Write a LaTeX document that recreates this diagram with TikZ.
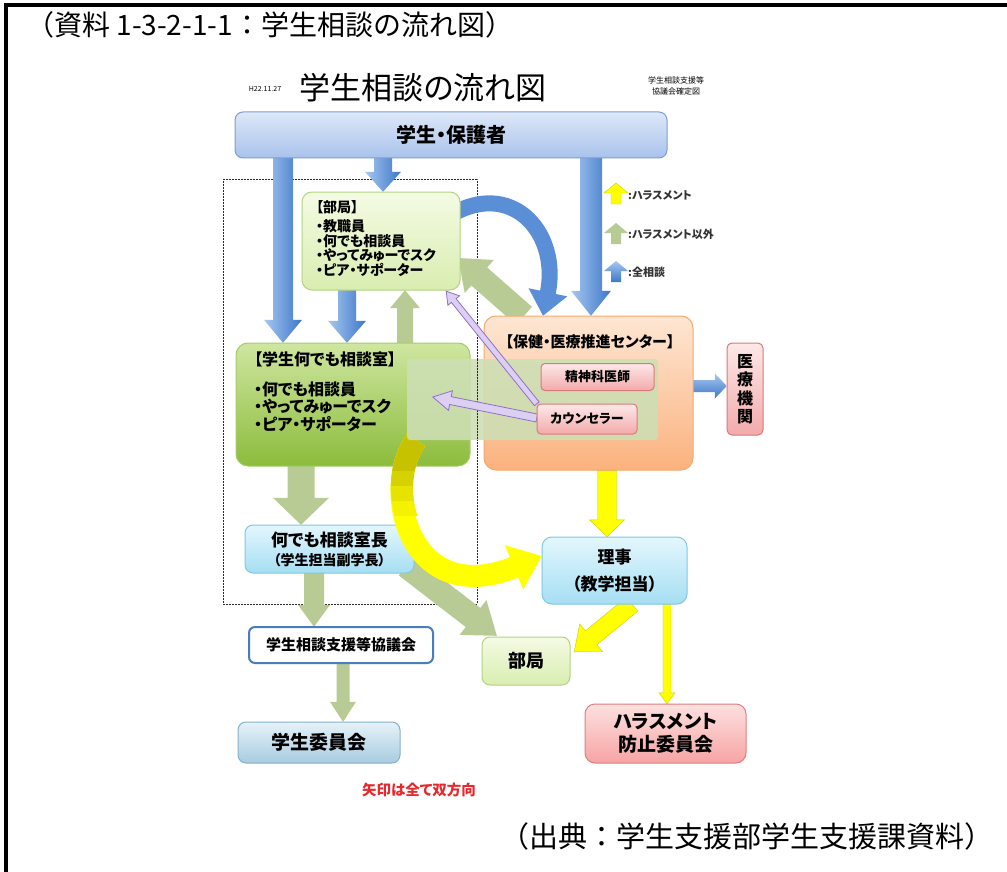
\documentclass[tikz,border=0pt]{standalone}
\usepackage{fontspec}
\setmainfont{Noto Sans CJK JP}
\newfontfamily\jp{Noto Sans CJK JP}[RawFeature=+palt]
\usetikzlibrary{calc,arrows.meta}
\newcommand\myfs[2]{\fontsize{#1pt}{#2pt}\selectfont}
\definecolor{parTop}{HTML}{DDE8F8}\definecolor{parBot}{HTML}{A9C2EC}\definecolor{parDr}{HTML}{7F9DD3}
\definecolor{bukTop}{HTML}{F4FBE4}\definecolor{bukBot}{HTML}{D9EDB0}\definecolor{bukDr}{HTML}{B3D383}
\definecolor{souTop}{HTML}{CFE6A0}\definecolor{souBot}{HTML}{8CBC3C}\definecolor{souDr}{HTML}{A5CC6A}
\definecolor{cenTop}{HTML}{FEE6D3}\definecolor{cenBot}{HTML}{FBB27E}\definecolor{cenDr}{HTML}{F6A96B}
\definecolor{ovlC}{HTML}{CDDFB4}
\definecolor{pinkTop}{HTML}{FDE8E8}\definecolor{pinkBot}{HTML}{F3AAAA}\definecolor{pinkDr}{HTML}{D97A7A}
\definecolor{cyTop}{HTML}{E3F7FD}\definecolor{cyBot}{HTML}{A6DEF3}\definecolor{cyDr}{HTML}{7FC8E6}
\definecolor{kyoDr}{HTML}{4A7CC0}
\definecolor{iinTop}{HTML}{E6F2F8}\definecolor{iinBot}{HTML}{A7CCE0}\definecolor{iinDr}{HTML}{86B0CC}
\definecolor{harTop}{HTML}{FDE0E0}\definecolor{harBot}{HTML}{F7A4A4}\definecolor{harDr}{HTML}{E07F7F}
\definecolor{grArr}{HTML}{B8CB95}
\definecolor{blueL}{HTML}{A6C7F0}\definecolor{blueD}{HTML}{3D77C8}\definecolor{blueM}{HTML}{5A8FD8}
\definecolor{yelC}{HTML}{FFFF00}\definecolor{yelDr}{HTML}{D0CC00}
\definecolor{olA}{HTML}{C6C200}\definecolor{olB}{HTML}{D6D200}\definecolor{olC}{HTML}{E6E300}\definecolor{olD}{HTML}{F4F200}
\definecolor{purF}{HTML}{DCCFF3}\definecolor{purD}{HTML}{8F72C4}
\definecolor{noteRed}{HTML}{E8282C}
% block arrow: style, from, to, half shaft, half head, head length
\newcommand\blk[6]{%
  \coordinate (blkC) at ($(#3)!#6!(#2)$);
  \path[#1] ($(#2)!#4!90:(#3)$) -- ($(blkC)!#4!90:(#3)$) -- ($(blkC)!#5!90:(#3)$)
    -- (#3) -- ($(blkC)!#5!-90:(#3)$) -- ($(blkC)!#4!-90:(#3)$) -- ($(#2)!#4!-90:(#3)$) -- cycle;
}
\newcommand\arcpath{(yas) .. controls (380,490) and (410,610) .. (yae)}
\begin{document}
\begin{tikzpicture}[x=1pt,y=-1pt,
  every node/.style={inner sep=0pt},
  box/.style={draw, line width=1pt, rounded corners=8pt, align=center, font=\jp\bfseries},
  framest/.style={draw=black!85, line width=1pt, dash pattern=on 2pt off 1pt},
  bluearr/.style={left color=blueL, right color=blueD},
  bluearrH/.style={top color=blueL, bottom color=blueD},
  greenarr/.style={fill=grArr},
  yelarr/.style={fill=yelC, draw=yelDr, line width=0.4pt},
  purarr/.style={fill=purF, draw=purD, line width=0.8pt},
  legtxt/.style={anchor=west, font=\jp\bfseries\myfs{11}{12}, text=black!80},
]
\useasboundingbox (0,0) rectangle (1007,872);
\fill[white] (0,0) rectangle (1007,872);
% page border
\draw[line width=4pt] (6,872) -- (6,5) -- (1007,5);
% captions
\node[anchor=west, font=\myfs{28}{30}] (cap1) at (26,25) {（資料 1-3-2-1-1：学生相談の流れ図）};
\node[anchor=east, font=\myfs{29}{31}] (cap2) at (994,836) {（出典：学生支援部学生支援課資料）};
% headings
\node[font=\jp\myfs{31}{33}] (title) at (423,88) {学生相談の流れ図};
\node[font=\jp\myfs{7}{8}] (date) at (265,89) {H22.11.27};
\node[align=center, font=\jp\myfs{8}{10.5}] (kakutei) at (676,86) {学生相談支援等\\協議会確定図};
% dashed frame
\node[framest, minimum width=254pt, minimum height=424pt] (frame) at (350,392) {};

% node positions
\path
  (451,135) node[minimum width=432pt, minimum height=46pt] (parent) {}
  (381,241) node[minimum width=158pt, minimum height=98pt] (buk) {}
  (353,404.5) node[minimum width=234pt, minimum height=123pt] (sou) {}
  (588.5,393) node[minimum width=209pt, minimum height=154pt] (cen) {}
  (745,389) node[minimum width=36pt, minimum height=92pt] (iryo) {}
  (329.5,549) node[minimum width=169pt, minimum height=48pt] (shi) {}
  (341,645) node[minimum width=184pt, minimum height=36pt] (kyo) {}
  (319,742.5) node[minimum width=162pt, minimum height=41pt] (iin) {}
  (614.5,570.5) node[minimum width=145pt, minimum height=67pt] (riji) {}
  (526,661) node[minimum width=88pt, minimum height=48pt] (buk2) {}
  (665.5,733.5) node[minimum width=161pt, minimum height=59pt] (har) {}
  (532.5,399.5) node[minimum width=251pt, minimum height=81pt] (ovl) {}
  (597.5,377) node[minimum width=113pt, minimum height=27pt] (psy) {}
  (587,419) node[minimum width=100pt, minimum height=30pt] (cou) {};

% connector end points
\coordinate (b1s) at (283,0 |- parent.south); \coordinate (b1e) at (283,0 |- sou.north);
\coordinate (b2s) at (383,0 |- parent.south); \coordinate (b2e) at (383,0 |- buk.north);
\coordinate (b3s) at (347,0 |- buk.south);    \coordinate (b3e) at (347,0 |- sou.north);
\coordinate (b4s) at (591,0 |- parent.south); \coordinate (b4e) at (591,0 |- cen.north);
\coordinate (b5s) at ([xshift=-2pt]cen.east |- 0,386); \coordinate (b5e) at (iryo.west |- 0,386);
\coordinate (g1s) at (405,0 |- sou.north);    \coordinate (g1e) at (405,0 |- buk.south);
\coordinate (g2s) at (524,0 |- cen.north);    \coordinate (g2e) at ([shift={(-2,17)}]buk.east);
\coordinate (g3s) at (301,0 |- sou.south);    \coordinate (g3e) at (301,0 |- shi.north);
\coordinate (g4s) at (314,0 |- shi.south);    \coordinate (g4e) at (314,0 |- kyo.north);
\coordinate (g5s) at (343,0 |- kyo.south);    \coordinate (g5e) at (343,0 |- iin.north);
\coordinate (g6s) at ([shift={(-8,17)}]shi.east); \coordinate (g6e) at ([shift={(15,-1)}]buk2.north west);
\coordinate (y1s) at (607,0 |- cen.south);    \coordinate (y1e) at (607,0 |- riji.north);
\coordinate (y2s) at (632,0 |- riji.south);   \coordinate (y2e) at ([shift={(4,15)}]buk2.north east);
\coordinate (y3s) at (667,0 |- riji.south);   \coordinate (y3e) at (667,0 |- har.north);
\coordinate (b6s) at ([shift={(-4,-29)}]buk.east); \coordinate (b6e) at (543,0 |- cen.north);
\coordinate (yas) at (416,0 |- ovl.south);    \coordinate (yae) at ([shift={(0,-14.5)}]riji.west);
\coordinate (p1s) at (cou.north west);        \coordinate (p1e) at ([shift={(-14,1)}]buk.south east);
\coordinate (p2s) at ([yshift=1pt]cou.west);  \coordinate (p2e) at ([shift={(26,-2.5)}]ovl.west);

% straight block arrows (under the boxes)
\blk{bluearr}{b1s}{b1e}{10pt}{19pt}{23pt}
\blk{bluearr}{b2s}{b2e}{9pt}{18pt}{20pt}
\blk{bluearr}{b3s}{b3e}{9pt}{19pt}{22pt}
\blk{bluearr}{b4s}{b4e}{11pt}{20pt}{25pt}
\blk{bluearrH}{b5s}{b5e}{6pt}{12.5pt}{12pt}
\blk{greenarr}{g1s}{g1e}{8pt}{15pt}{18pt}
\blk{greenarr}{g2s}{g2e}{12pt}{22pt}{28pt}
\blk{greenarr}{g3s}{g3e}{13.5pt}{28pt}{27pt}
\blk{greenarr}{g4s}{g4e}{10pt}{16pt}{22pt}
\blk{greenarr}{g5s}{g5e}{6.5pt}{13pt}{20pt}
\blk{greenarr}{g6s}{g6e}{12pt}{22pt}{30pt}
\blk{yelarr}{y1s}{y1e}{9.5pt}{17.5pt}{17pt}
\blk{yelarr}{y2s}{y2e}{9pt}{18pt}{22pt}
\blk{yelarr}{y3s}{y3e}{4pt}{8pt}{11pt}
% curved blue arrow
\draw[line width=16pt, draw=blueM, -{Triangle[length=24pt 0 0, width=38pt 0 0]}]
  (b6s) .. controls (515,182) and (560,235) .. (b6e);

% boxes
\node[box, top color=parTop, bottom color=parBot, draw=parDr, minimum width=432pt, minimum height=46pt, font=\jp\bfseries\myfs{20}{22}] at (parent) {学生・保護者};
\node[box, top color=bukTop, bottom color=bukBot, draw=bukDr, rounded corners=10pt, minimum width=158pt, minimum height=98pt] at (buk) {};
\node[box, top color=souTop, bottom color=souBot, draw=souDr, rounded corners=12pt, minimum width=234pt, minimum height=123pt] at (sou) {};
\node[box, top color=cenTop, bottom color=cenBot, draw=cenDr, rounded corners=12pt, minimum width=209pt, minimum height=154pt] at (cen) {};
\node[box, top color=pinkTop, bottom color=pinkBot, draw=pinkDr, rounded corners=5pt, minimum width=36pt, minimum height=92pt, font=\jp\bfseries\myfs{16}{18.5}] at (iryo) {医\\療\\機\\関};
\node[box, top color=cyTop, bottom color=cyBot, draw=cyDr, minimum width=169pt, minimum height=48pt, font=\jp\bfseries\myfs{17}{19}] at (shi) {何でも相談室長\\{\myfs{14}{16}（学生担当副学長）}};
\node[box, fill=white, draw=kyoDr, line width=2pt, rounded corners=6pt, minimum width=184pt, minimum height=36pt, font=\jp\bfseries\myfs{15}{17}] at (kyo) {学生相談支援等協議会};
\node[box, top color=iinTop, bottom color=iinBot, draw=iinDr, minimum width=162pt, minimum height=41pt, font=\jp\bfseries\myfs{19}{21}] at (iin) {学生委員会};
\node[box, top color=cyTop, bottom color=cyBot, draw=cyDr, rounded corners=10pt, minimum width=145pt, minimum height=67pt, font=\jp\bfseries\myfs{17}{27}] at (riji) {理事\\（教学担当）};
\node[box, top color=bukTop, bottom color=bukBot, draw=bukDr, minimum width=88pt, minimum height=48pt, font=\jp\bfseries\myfs{18}{20}] at (buk2) {部局};
\node[box, top color=harTop, bottom color=harBot, draw=harDr, rounded corners=10pt, minimum width=161pt, minimum height=59pt, font=\jp\bfseries\myfs{19}{23}] at (har) {ハラスメント\\防止委員会};

% box contents
\node[anchor=north west, align=left, font=\jp\bfseries\myfs{14}{14.5}] (buktxt) at (316,200) {【部局】\\[5pt]・教職員\\・何でも相談員\\・やってみゅーでスク\\・ピア・サポーター};
\node[anchor=north west, align=left, font=\jp\bfseries\myfs{16}{17.5}] (soutxt) at (254,352) {【学生何でも相談室】\\[12pt]・何でも相談員\\・やってみゅーでスク\\・ピア・サポーター};
\node[font=\jp\bfseries\myfs{15}{16}] (centxt) at (590,342) {【保健・医療推進センター】};

% big yellow curved arrow
\draw[line width=22pt, draw=yelC, -{Triangle[length=30pt 0 0, width=46pt 0 0]}] \arcpath;
\begin{scope}\clip (340,420) rectangle (470,515); \draw[line width=22pt, draw=olD] \arcpath; \end{scope}
\begin{scope}\clip (340,420) rectangle (470,500); \draw[line width=22pt, draw=olC] \arcpath; \end{scope}
\begin{scope}\clip (340,420) rectangle (470,485); \draw[line width=22pt, draw=olB] \arcpath; \end{scope}
\begin{scope}\clip (340,420) rectangle (470,470); \draw[line width=22pt, draw=olA] \arcpath; \end{scope}

% translucent overlay band
\node[fill=ovlC, opacity=0.88, rounded corners=3pt, minimum width=251pt, minimum height=81pt] at (ovl) {};
\draw[framest] (frame.east |- ovl.north) -- (frame.east |- ovl.south);

% purple arrows
\blk{purarr}{p1s}{p1e}{3pt}{7.5pt}{12pt}
\blk{purarr}{p2s}{p2e}{4pt}{10pt}{18pt}

\node[box, top color=pinkTop, bottom color=pinkBot, draw=pinkDr, rounded corners=4pt, minimum width=113pt, minimum height=27pt, font=\jp\bfseries\myfs{13}{14}] at (psy) {精神科医師};
\node[box, top color=pinkTop, bottom color=pinkBot, draw=pinkDr, rounded corners=4pt, minimum width=100pt, minimum height=30pt, font=\jp\bfseries\myfs{13}{14}] at (cou) {カウンセラー};

% legend
\coordinate (l1s) at (616,204); \coordinate (l1e) at (616,183);
\coordinate (l2s) at (616,244); \coordinate (l2e) at (616,223);
\coordinate (l3s) at (616,282); \coordinate (l3e) at (616,261);
\blk{yelarr}{l1s}{l1e}{5pt}{12pt}{10pt}
\blk{greenarr}{l2s}{l2e}{5pt}{12pt}{10pt}
\blk{bluearrH}{l3s}{l3e}{5pt}{12pt}{10pt}
\node[legtxt] (leg1) at (628,195) {:ハラスメント};
\node[legtxt] (leg2) at (628,234) {:ハラスメント以外};
\node[legtxt] (leg3) at (628,272) {:全相談};

% note
\node[font=\jp\bfseries\myfs{14.5}{16}, text=noteRed] (note) at (419,790) {矢印は全て双方向};
\end{tikzpicture}
\end{document}
